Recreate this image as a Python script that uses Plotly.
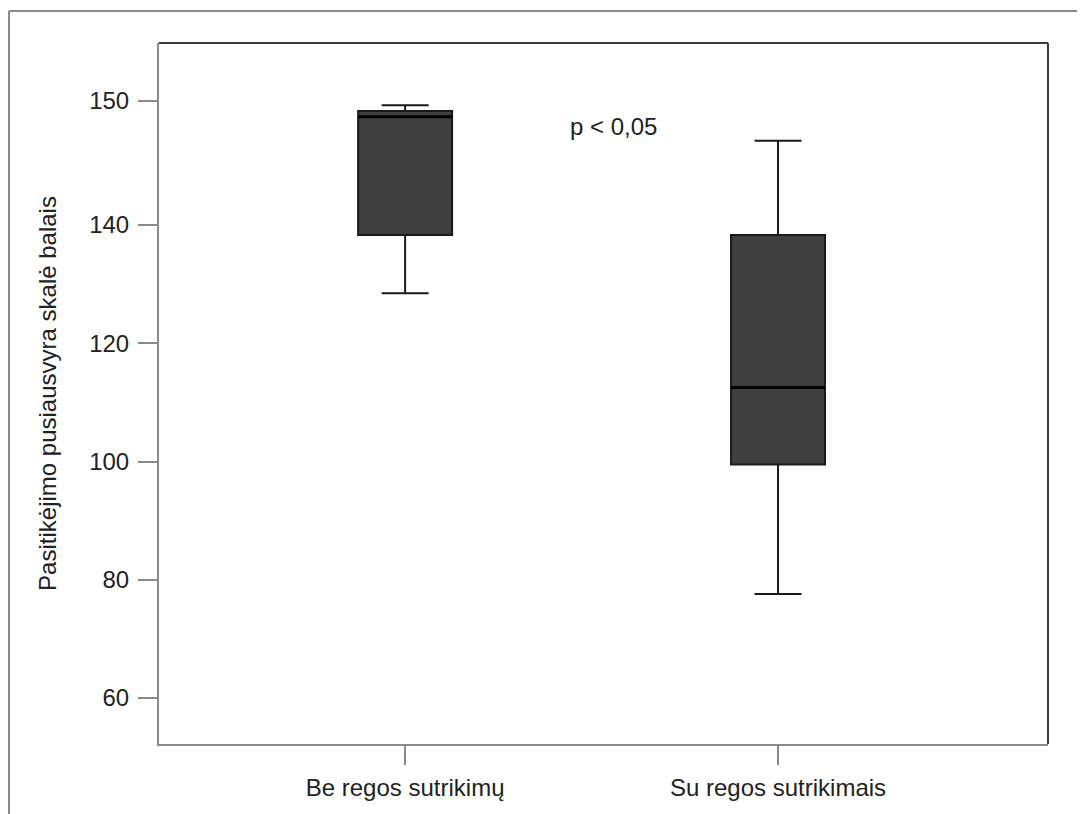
import plotly.graph_objects as go

# Data (y scale linear through 60..140, the label "150" sits one step above 140)
categories = ["Be regos sutrikimų", "Su regos sutrikimais"]
positions = [0, 1]
lower_whisker = [128.45, 77.6]
q1_values = [138.3, 99.5]
median_values = [158.3, 112.5]
q3_values = [159.3, 138.3]
upper_whisker = [160.25, 154.25]

y_tick_vals = [60, 80, 100, 120, 140, 161]
y_tick_text = ["60", "80", "100", "120", "140", "150"]

BOX_W = 0.252
FONT = "Liberation Sans, Arial, sans-serif"
FS = 24

fig = go.Figure()
fig.add_trace(go.Box(
    x=positions,
    q1=q1_values, median=median_values, q3=q3_values,
    lowerfence=lower_whisker, upperfence=upper_whisker,
    width=BOX_W, whiskerwidth=0.5,
    fillcolor="#3f3f3f",
    line=dict(color="#1a1a1a", width=2),
    boxpoints=False, hoverinfo="skip", showlegend=False,
))
# thicker median lines
for p, m in zip(positions, median_values):
    fig.add_trace(go.Scatter(
        x=[p - BOX_W / 2, p + BOX_W / 2], y=[m, m], mode="lines",
        line=dict(color="#000000", width=3), hoverinfo="skip", showlegend=False,
    ))

fig.add_annotation(
    text="p < 0,05", xref="paper", yref="paper", x=0.5107, y=0.881,
    xanchor="center", yanchor="middle",
    showarrow=False, font=dict(family=FONT, size=FS, color="#222"),
)

shapes = [
    # plot frame top and right (darker)
    dict(type="line", xref="paper", yref="paper", x0=0, x1=1, y0=1, y1=1,
         line=dict(color="#3a3a3a", width=2)),
    dict(type="line", xref="paper", yref="paper", x0=1, x1=1, y0=0, y1=1,
         line=dict(color="#3a3a3a", width=2)),
    # outer border (top and left)
    dict(type="line", xref="paper", yref="paper", x0=-0.1687, x1=1.06, y0=1.0457, y1=1.0457,
         line=dict(color="#8a8a8a", width=2)),
    dict(type="line", xref="paper", yref="paper", x0=-0.1687, x1=-0.1687, y0=1.0457, y1=-0.12,
         line=dict(color="#8a8a8a", width=2)),
]

fig.update_layout(
    width=1085, height=814,
    margin=dict(l=151, r=45, t=35, b=78),
    paper_bgcolor="white", plot_bgcolor="white",
    font=dict(family=FONT, size=FS, color="#222"),
    shapes=shapes,
    showlegend=False,
)
fig.update_xaxes(
    range=[-0.66, 1.724], tickvals=positions, ticktext=categories,
    showgrid=False, zeroline=False,
    showline=True, linecolor="#8a8a8a", linewidth=2,
    ticks="outside", ticklen=19, tickwidth=2, tickcolor="#8a8a8a",
    ticklabelstandoff=2,
    tickfont=dict(family=FONT, size=FS, color="#222"),
)
fig.update_yaxes(
    range=[52.22, 170.78], tickvals=y_tick_vals, ticktext=y_tick_text,
    showgrid=False, zeroline=False,
    showline=True, linecolor="#8a8a8a", linewidth=2,
    ticks="outside", ticklen=19, tickwidth=2, tickcolor="#8a8a8a",
    ticklabelstandoff=4,
    tickfont=dict(family=FONT, size=FS, color="#222"),
    title=dict(text="Pasitikėjimo pusiausvyra skalė balais", standoff=26,
               font=dict(family=FONT, size=FS, color="#222")),
)

fig.write_html("out.html")
